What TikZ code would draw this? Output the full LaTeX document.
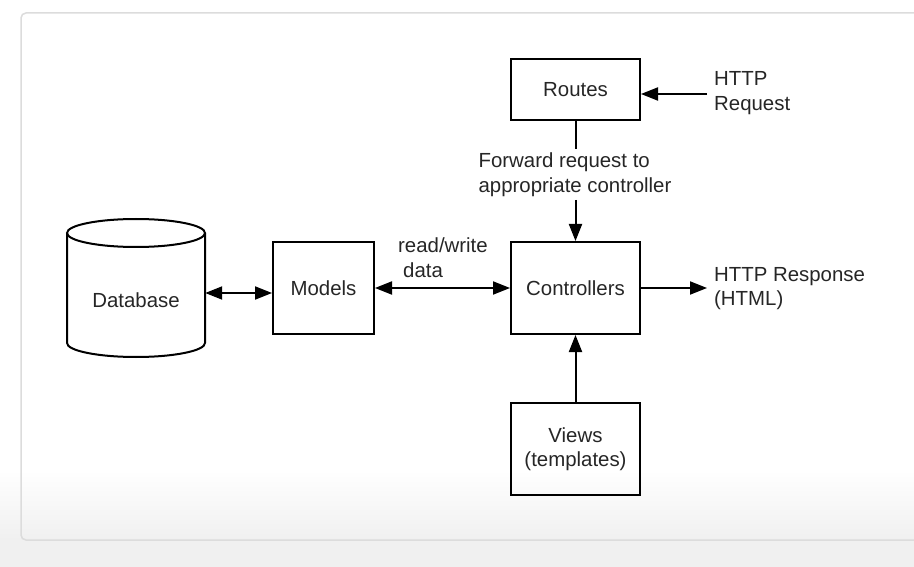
\documentclass[tikz,border=0pt]{standalone}
\usepackage{fontspec}
\setmainfont{Liberation Sans}
\usetikzlibrary{arrows.meta}
\definecolor{bgg}{HTML}{F0F0F0}
\definecolor{framec}{HTML}{DCDCDC}
\definecolor{txt}{HTML}{262626}
\begin{document}
\begin{tikzpicture}[x=1pt,y=-1pt,
  every node/.style={font=\fontsize{20.4}{24.5}\selectfont, text=txt},
  box/.style={draw=black, line width=2pt, inner sep=0pt, minimum width=129pt, minimum height=92pt},
  conn/.style={line width=2pt, draw=black},
  arr/.style={conn, -{Triangle[length=17pt,width=13pt]}},
  dblarr/.style={conn, {Triangle[length=17pt,width=13pt]}-{Triangle[length=17pt,width=13pt]}},
  lbl/.style={inner sep=0pt, align=left}
]
\useasboundingbox (0,0) rectangle (914,567);
% background
\fill[white] (0,0) rectangle (914,567);
\shade[top color=white, bottom color=bgg] (0,470) rectangle (914,540);
\fill[bgg] (0,540) rectangle (914,567);
\draw[framec, line width=1.5pt, rounded corners=5pt] (21,13) rectangle (940,540);

% boxes
\node[box, minimum height=61pt] (routes) at (575.5,89.5) {Routes};
\node[box] (ctrl) at (575.5,288) {Controllers};
\node[box, minimum width=101pt, minimum height=91pt] (models) at (323.5,288) {Models};
\node[box, align=center] (views) at (575.5,449) {Views\\(templates)};

% database cylinder
\node[minimum width=138pt, minimum height=124pt, inner sep=0pt] (db) at (136,293) {};
\draw[conn] (136,233) ellipse [x radius=69pt, y radius=14pt];
\draw[conn] (67,233) -- (67,343) arc[start angle=180, end angle=360, x radius=69pt, y radius=14pt] -- (205,233);
\node (dbtext) at (136,300) {Database};

% labels
\node[lbl, anchor=west] (rw) at (398,257.5) {read/write\\\hspace*{5pt}data};
\node[lbl, anchor=west] (req) at (714,93) {HTTP\\Request};
\node[lbl, anchor=west] (resp) at (714,288.5) {HTTP Response\\(HTML)};
\node[lbl] (fwd) at (575,174.5) {Forward request to\\appropriate controller};

\coordinate (reqin) at (707,94);
\coordinate (respout) at (707,288);
\coordinate (fwdtop) at (575.5,149);
\coordinate (fwdbot) at (575.5,200);

% connectors
\draw[dblarr] (db.east) -- (db.east -| models.west);
\draw[dblarr] (models.east) -- (ctrl.west);
\draw[arr] (reqin) -- (reqin -| routes.east);
\draw[arr] (ctrl.east) -- (respout);
\draw[conn] (routes.south) -- (fwdtop);
\draw[arr] (fwdbot) -- (ctrl.north);
\draw[arr] (views.north) -- (ctrl.south);
\end{tikzpicture}
\end{document}
